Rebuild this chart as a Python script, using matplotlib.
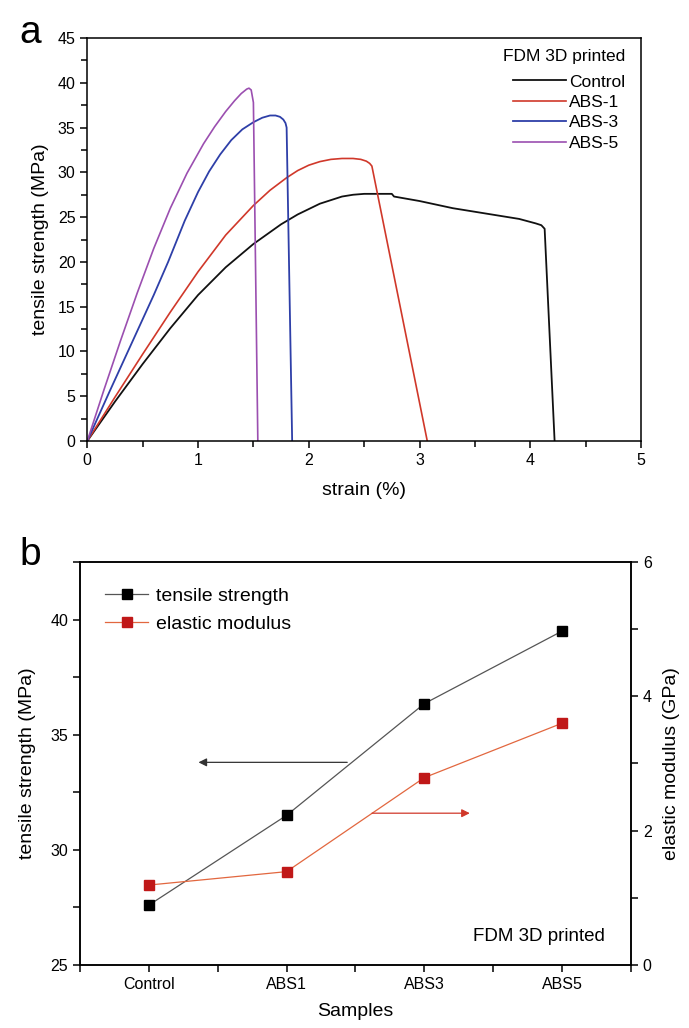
import matplotlib
matplotlib.use("Agg")
import matplotlib.pyplot as plt
from matplotlib.ticker import MultipleLocator
from matplotlib.lines import Line2D

plt.rcParams['font.family'] = ['Liberation Sans', 'DejaVu Sans']

# ---- panel a: stress-strain curves ----
control_x = [0, 0.25, 0.5, 0.75, 1.0, 1.25, 1.5, 1.75, 1.9, 2.0, 2.1, 2.2, 2.3, 2.4, 2.5,
             2.6, 2.75, 2.77, 3.0, 3.3, 3.6, 3.9, 4.05, 4.1, 4.13, 4.22]
control_y = [0, 4.4, 8.6, 12.6, 16.3, 19.4, 22.0, 24.2, 25.3, 25.9, 26.5, 26.9, 27.3, 27.5, 27.6,
             27.6, 27.6, 27.3, 26.8, 26.0, 25.4, 24.8, 24.3, 24.1, 23.7, 0]

abs1_x = [0, 0.25, 0.5, 0.75, 1.0, 1.25, 1.5, 1.65, 1.8, 1.9, 2.0, 2.1, 2.2, 2.3, 2.4, 2.47,
          2.52, 2.55, 2.57, 3.07]
abs1_y = [0, 4.9, 9.7, 14.4, 18.9, 23.0, 26.3, 28.0, 29.4, 30.2, 30.8, 31.2, 31.45, 31.55, 31.55,
          31.45, 31.25, 31.0, 30.7, 0]

abs3_x = [0, 0.2, 0.4, 0.6, 0.73, 0.88, 1.0, 1.1, 1.2, 1.3, 1.4, 1.5, 1.58, 1.65, 1.7, 1.74,
          1.77, 1.79, 1.80, 1.85]
abs3_y = [0, 5.5, 10.9, 16.3, 20.0, 24.6, 27.8, 30.1, 32.0, 33.6, 34.8, 35.6, 36.1, 36.35, 36.35,
          36.2, 35.9, 35.5, 35.0, 0]

abs5_x = [0, 0.15, 0.3, 0.45, 0.6, 0.75, 0.9, 1.05, 1.15, 1.25, 1.33, 1.39, 1.44, 1.46, 1.48,
          1.50, 1.54]
abs5_y = [0, 5.7, 11.2, 16.5, 21.5, 26.0, 29.9, 33.2, 35.1, 36.8, 38.0, 38.8, 39.3, 39.4, 39.2,
          37.8, 0]

# ---- panel b: summary values ----
samples = ['Control', 'ABS1', 'ABS3', 'ABS5']
tensile = [27.6, 31.5, 36.35, 39.5]
modulus = [1.19, 1.39, 2.79, 3.60]

fig = plt.figure(figsize=(6.89, 10.28), dpi=100)

# panel a
ax = fig.add_axes([0.1267, 0.571, 0.8036, 0.392])
ax.plot(control_x, control_y, color='#111111', lw=1.3, label='Control')
ax.plot(abs1_x, abs1_y, color='#d0382a', lw=1.2, label='ABS-1')
ax.plot(abs3_x, abs3_y, color='#2e3fa8', lw=1.3, label='ABS-3')
ax.plot(abs5_x, abs5_y, color='#9b4fb0', lw=1.2, label='ABS-5')
ax.set_xlim(0, 5)
ax.set_ylim(0, 45)
ax.xaxis.set_major_locator(MultipleLocator(1))
ax.xaxis.set_minor_locator(MultipleLocator(0.5))
ax.yaxis.set_major_locator(MultipleLocator(5))
ax.yaxis.set_minor_locator(MultipleLocator(2.5))
ax.tick_params(which='both', direction='out', top=False, right=False, width=1.1, labelsize=11.5)
ax.tick_params(which='major', length=5)
ax.tick_params(which='minor', length=4)
for s in ax.spines.values():
    s.set_linewidth(1.1)
ax.set_xlabel('strain (%)', fontsize=14, labelpad=10)
ax.set_ylabel('tensile strength (MPa)', fontsize=14, labelpad=6)
ax.text(0.971, 0.953, 'FDM 3D printed', transform=ax.transAxes, ha='right', va='center',
        fontsize=12.5)
ax.legend(loc='upper right', bbox_to_anchor=(0.984, 0.927), borderaxespad=0, frameon=False,
          fontsize=12.5, handlelength=3.0, labelspacing=0.3, handletextpad=0.2)
fig.text(0.028, 0.985, 'a', fontsize=28, va='top', ha='left')

# panel b
bx = fig.add_axes([0.1161, 0.0613, 0.7997, 0.392])
bx2 = bx.twinx()
pos = list(range(len(samples)))
bx.plot(pos, tensile, color='#555555', lw=0.9, marker='s', ms=7.5, mfc='black', mec='black',
        zorder=3)
bx2.plot(pos, modulus, color='#e2673f', lw=0.9, marker='s', ms=7.5, mfc='#c01818', mec='#c01818',
         zorder=3)
bx.set_xlim(-0.5, 3.5)
bx.set_ylim(25, 42.5)
bx2.set_ylim(0, 6)
bx.set_xticks(pos)
bx.set_xticklabels(samples)
bx.xaxis.set_minor_locator(MultipleLocator(0.5))
bx.yaxis.set_major_locator(MultipleLocator(5))
bx.yaxis.set_minor_locator(MultipleLocator(2.5))
bx2.yaxis.set_major_locator(MultipleLocator(2))
bx2.yaxis.set_minor_locator(MultipleLocator(1))
bx.tick_params(which='both', direction='out', top=False, width=1.1, labelsize=11.5)
bx.tick_params(which='both', length=5)
bx2.tick_params(which='both', direction='out', width=1.1, labelsize=11.5, length=5)
for a_ in (bx, bx2):
    for s in a_.spines.values():
        s.set_linewidth(1.1)
bx.set_xlabel('Samples', fontsize=14, labelpad=8)
bx.set_ylabel('tensile strength (MPa)', fontsize=14, labelpad=10)
bx2.set_ylabel('elastic modulus (GPa)', fontsize=14, labelpad=8)

bx.annotate('', xy=(0.34, 33.8), xytext=(1.46, 33.8),
            arrowprops=dict(arrowstyle='-|>', color='#333333', lw=0.9, mutation_scale=12))
bx2.annotate('', xy=(2.35, 2.26), xytext=(1.60, 2.26),
             arrowprops=dict(arrowstyle='-|>', color='#d0382a', lw=0.9, mutation_scale=12))

bx.text(0.953, 0.07, 'FDM 3D printed', transform=bx.transAxes, ha='right', va='center',
        fontsize=13.5)

handles = [Line2D([], [], color='#555555', lw=0.9, marker='s', ms=7.5, mfc='black', mec='black'),
           Line2D([], [], color='#e2673f', lw=0.9, marker='s', ms=7.5, mfc='#c01818',
                  mec='#c01818')]
bx2.legend(handles, ['tensile strength', 'elastic modulus'], loc='upper left', frameon=False,
           fontsize=14, handlelength=2.2, handletextpad=0.4, labelspacing=0.55,
           borderaxespad=0.9)
fig.text(0.028, 0.478, 'b', fontsize=28, va='top', ha='left')

fig.savefig('out.png', dpi=100)
